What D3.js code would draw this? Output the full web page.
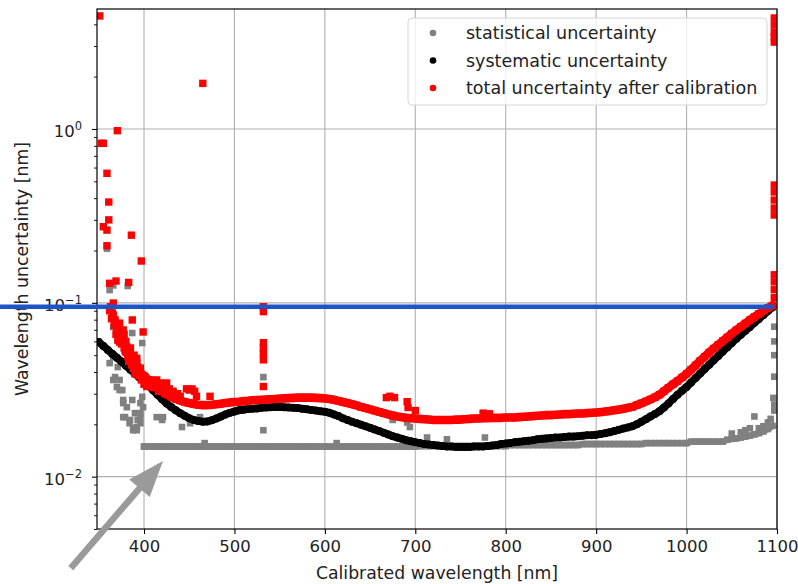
<!DOCTYPE html>
<html>
<head>
<meta charset="utf-8">
<script src="https://cdn.jsdelivr.net/npm/d3@7"></script>
<style>
  html, body { margin: 0; padding: 0; background: #fff; }
  svg { display: block; font-family: "DejaVu Sans", sans-serif; }
</style>
</head>
<body>
<svg id="chart" width="798" height="584"></svg>
<script>
// Wavelength grid of the calibration [nm]
const wavelength = [
  350,355,360,365,370,375,380,385,390,395,
  400,405,410,415,420,425,430,435,440,445,
  450,455,460,465,470,475,480,485,490,495,
  500,505,510,515,520,525,530,535,540,545,
  550,555,560,565,570,575,580,585,590,595,
  600,605,610,615,620,625,630,635,640,645,
  650,655,660,665,670,675,680,685,690,695,
  700,705,710,715,720,725,730,735,740,745,
  750,755,760,765,770,775,780,785,790,795,
  800,805,810,815,820,825,830,835,840,845,
  850,855,860,865,870,875,880,885,890,895,
  900,905,910,915,920,925,930,935,940,945,
  950,955,960,965,970,975,980,985,990,995,
  1000,1005,1010,1015,1020,1025,1030,1035,1040,1045,
  1050,1055,1060,1065,1070,1075,1080,1085,1090,1095
];

// Statistical uncertainty [nm] on the grid (no value below 400 nm)
const statistical = [
  null,null,null,null,null,null,null,null,null,null,
  0.0149,0.0149,0.0149,0.0149,0.0149,0.0149,0.0149,0.0149,0.0149,0.0149,
  0.0149,0.0149,0.0149,0.0149,0.0149,0.0149,0.0149,0.0149,0.0149,0.0149,
  0.0149,0.0149,0.0149,0.0149,0.0149,0.0149,0.0149,0.0149,0.0149,0.0149,
  0.0149,0.0149,0.0149,0.0149,0.0149,0.0149,0.0149,0.0149,0.0149,0.0149,
  0.0149,0.0149,0.0149,0.0149,0.0149,0.0149,0.0149,0.0149,0.0149,0.0149,
  0.0149,0.0149,0.0149,0.0149,0.0149,0.0149,0.0149,0.0149,0.0149,0.0149,
  0.0149,0.0150,0.0150,0.0150,0.0150,0.0150,0.0150,0.0150,0.0150,0.0150,
  0.0150,0.0150,0.0150,0.0150,0.0150,0.0150,0.0150,0.0150,0.0150,0.0150,
  0.0150,0.0152,0.0152,0.0152,0.0152,0.0152,0.0152,0.0152,0.0152,0.0152,
  0.0152,0.0152,0.0152,0.0152,0.0152,0.0152,0.0152,0.0154,0.0154,0.0154,
  0.0154,0.0154,0.0154,0.0154,0.0154,0.0154,0.0154,0.0154,0.0154,0.0154,
  0.0154,0.0156,0.0156,0.0156,0.0156,0.0156,0.0156,0.0156,0.0156,0.0156,
  0.0156,0.0159,0.0159,0.0159,0.0159,0.0159,0.0159,0.0159,0.0159,0.0163,
  0.0165,0.0166,0.0168,0.0170,0.0172,0.0175,0.0178,0.0182,0.0188,0.0196
];

// Systematic uncertainty [nm] on the grid
const systematic = [
  0.0595,0.0565,0.0535,0.0508,0.0483,0.0459,0.0435,0.0412,0.0391,0.0372,
  0.0355,0.0334,0.0314,0.0296,0.0279,0.0264,0.0252,0.0241,0.0232,0.0224,
  0.0217,0.0212,0.0209,0.0207,0.0208,0.0211,0.0216,0.0222,0.0228,0.0233,
  0.0237,0.0241,0.0243,0.0245,0.0246,0.0247,0.0249,0.0250,0.0251,0.0252,
  0.0252,0.0251,0.0250,0.0249,0.0248,0.0246,0.0244,0.0242,0.0240,0.0238,
  0.0236,0.0233,0.0228,0.0223,0.0217,0.0212,0.0207,0.0203,0.0199,0.0195,
  0.0191,0.0187,0.0183,0.0179,0.0175,0.0171,0.0168,0.0165,0.0162,0.0160,
  0.0158,0.0156,0.0154,0.0153,0.0152,0.0151,0.0150,0.0149,0.0149,0.0148,
  0.0148,0.0148,0.0148,0.0149,0.0149,0.0149,0.0150,0.0151,0.0152,0.0154,
  0.0155,0.0156,0.0158,0.0159,0.0160,0.0161,0.0162,0.0164,0.0165,0.0166,
  0.0167,0.0168,0.0168,0.0169,0.0170,0.0170,0.0171,0.0172,0.0173,0.0173,
  0.0174,0.0176,0.0178,0.0180,0.0183,0.0186,0.0189,0.0192,0.0195,0.0200,
  0.0207,0.0214,0.0222,0.0229,0.0238,0.0250,0.0264,0.0280,0.0296,0.0312,
  0.0328,0.0348,0.0370,0.0392,0.0416,0.0440,0.0467,0.0495,0.0524,0.0555,
  0.0588,0.0621,0.0655,0.0690,0.0727,0.0767,0.0808,0.0852,0.0897,0.0942
];

// Total uncertainty after calibration [nm] on the grid (scattered below 395 nm)
const total = [
  null,null,null,null,null,null,null,null,null,0.0400,
  0.0380,0.0360,0.0342,0.0325,0.0310,0.0297,0.0288,0.0280,0.0274,0.0269,
  0.0265,0.0262,0.0259,0.0258,0.0258,0.0259,0.0261,0.0263,0.0265,0.0267,
  0.0269,0.0270,0.0272,0.0273,0.0275,0.0276,0.0277,0.0278,0.0279,0.0280,
  0.0281,0.0282,0.0283,0.0284,0.0285,0.0285,0.0285,0.0285,0.0284,0.0283,
  0.0282,0.0280,0.0277,0.0273,0.0269,0.0265,0.0261,0.0257,0.0252,0.0248,
  0.0244,0.0240,0.0236,0.0232,0.0228,0.0225,0.0222,0.0220,0.0218,0.0217,
  0.0216,0.0215,0.0214,0.0213,0.0212,0.0212,0.0212,0.0212,0.0212,0.0213,
  0.0213,0.0214,0.0215,0.0216,0.0216,0.0217,0.0217,0.0218,0.0218,0.0218,
  0.0219,0.0219,0.0219,0.0220,0.0221,0.0222,0.0223,0.0224,0.0225,0.0226,
  0.0226,0.0227,0.0228,0.0229,0.0229,0.0230,0.0231,0.0231,0.0232,0.0233,
  0.0234,0.0235,0.0237,0.0239,0.0241,0.0243,0.0246,0.0249,0.0252,0.0258,
  0.0264,0.0271,0.0278,0.0286,0.0296,0.0310,0.0325,0.0340,0.0355,0.0372,
  0.0390,0.0413,0.0437,0.0463,0.0490,0.0518,0.0546,0.0574,0.0603,0.0633,
  0.0665,0.0697,0.0729,0.0762,0.0796,0.0830,0.0865,0.0900,0.0936,0.0965
];

// Isolated statistical points [wavelength nm, uncertainty nm]
const statisticalOutliers = [
  [362,0.1185],[382,0.125],[366,0.126],[359,0.205],[366,0.0726],[370,0.067],[387,0.067],
  [398,0.0587],[362,0.045],[366,0.049],[371,0.0427],[368,0.0374],[366,0.036],[370,0.0328],
  [373,0.036],[373,0.0315],[376,0.0315],[377,0.0276],[377,0.0265],[381,0.0251],[379,0.022],
  [377,0.022],[384,0.0203],[384.5,0.0212],[388,0.0185],[388,0.019],[392,0.0193],[392,0.0185],
  [396,0.0232],[396,0.0265],[387,0.0276],[390,0.0232],[396,0.0203],[396,0.022],[399,0.0251],
  [398,0.0288],[393,0.0212],[414,0.022],[420,0.0212],[421,0.022],[442,0.0193],[451,0.0203],
  [462,0.022],[467,0.0156],
  [532,0.0374],[532,0.0185],[613,0.0156],[675,0.0212],[691,0.0205],[694,0.0193],
  [713,0.0168],[735,0.0164],[777,0.0168],[1050,0.0177],[1060,0.018],[1065,0.0185],
  [1070,0.019],[1075,0.0222],[1080,0.019],[1085,0.0195],[1090,0.0205],[1093,0.0215],
  [1097,0.024],[1097,0.026],[1096,0.0284],[1097,0.0376],[1097,0.05],[1097,0.06],[1097,0.0729]
];

// Isolated total-uncertainty points [wavelength nm, uncertainty nm]
const totalOutliers = [
  [351,4.47],[353,0.827],[355,0.827],[370.5,0.978],[465,1.83],[359,0.556],[361,0.38],
  [361,0.30],[355,0.274],[359,0.262],[386,0.245],[359,0.213],[397,0.174],[362,0.1295],
  [369,0.1335],[383,0.131],
  [366,0.0997],[365,0.0874],[362,0.09],[363,0.095],[366,0.085],[364,0.081],[368,0.0797],
  [373,0.0764],[387,0.0797],[367,0.074],[370,0.0698],[377,0.0698],[372,0.072],[374,0.068],
  [369,0.066],[377,0.0636],[378,0.066],[373,0.0595],[371,0.061],[375,0.058],
  [380,0.060],[381,0.0558],[378,0.055],[379,0.053],[380,0.052],[385,0.055],[384,0.0516],
  [382,0.049],[389,0.050],[383,0.046],[388,0.0482],[392,0.048],[390,0.046],[386,0.044],
  [392,0.045],[388,0.042],[393,0.043],[391,0.041],[390,0.039],[396,0.0421],[394,0.038],
  [396,0.040],[397,0.036],[399,0.068],[401,0.0374],[400,0.034],[403,0.033],[407,0.036],
  [410,0.0325],[414,0.036],[416,0.031],[418,0.0346],[420,0.033],[423,0.030],
  [425,0.0346],[428,0.032],[432,0.0304],[432,0.031],[437,0.030],[440,0.029],
  [447,0.032],[450,0.0315],[453,0.032],[456,0.031],[458,0.029],[473,0.029],
  [532,0.095],[532,0.089],[532,0.059],[532,0.055],[532,0.051],[532,0.047],[532,0.033],
  [668,0.0285],[672,0.029],[677,0.0285],[691,0.027],[692,0.025],[700,0.024],
  [775,0.0232],[782,0.023],
  [1097,4.35],[1097,3.97],[1097,3.61],[1097,3.38],[1097,3.16],
  [1097,0.476],[1097,0.434],[1097,0.39],[1097,0.351],[1097,0.32],
  [1097,0.145],[1097,0.132],[1097,0.119],[1097,0.107]
];

const xTicks = [400, 500, 600, 700, 800, 900, 1000, 1100];
const yDecades = [1e-2, 1e-1, 1];
const yDecadeExponents = ["\u22122", "\u22121", "0"];
const yMinorTicks = [0.005,0.006,0.007,0.008,0.009,0.02,0.03,0.04,0.05,0.06,0.07,0.08,0.09,
                     0.2,0.3,0.4,0.5,0.6,0.7,0.8,0.9,2,3,4];
const legendLabels = ["statistical uncertainty", "systematic uncertainty", "total uncertainty after calibration"];
const seriesColors = ["#808080", "#000000", "#ff0000"];

// Reference level marked across the figure and arrow pointing at the statistical floor
const referenceLevel = 0.095;
const referenceEnd = 1097;
const arrowTail = [319, 0.00298];
const arrowTip = [421, 0.0123];

const svg = d3.select("#chart");
const plot = { left: 97, right: 777, top: 9, bottom: 529 };

const x = d3.scaleLinear().domain([348, 1100]).range([plot.left, plot.right]);
const y = d3.scaleLog().domain([0.005, 4.9]).range([plot.bottom, plot.top]);

svg.append("defs").append("clipPath").attr("id", "plot-clip")
  .append("rect")
  .attr("x", plot.left).attr("y", plot.top)
  .attr("width", plot.right - plot.left).attr("height", plot.bottom - plot.top);

// Grid
const grid = svg.append("g").attr("class", "grid");
grid.selectAll("line.vx").data(xTicks).join("line")
  .attr("x1", d => x(d)).attr("x2", d => x(d))
  .attr("y1", plot.top).attr("y2", plot.bottom)
  .attr("stroke", "#b0b0b0").attr("stroke-width", 1.1);
grid.selectAll("line.hy").data(yDecades).join("line")
  .attr("x1", plot.left).attr("x2", plot.right)
  .attr("y1", d => y(d)).attr("y2", d => y(d))
  .attr("stroke", "#b0b0b0").attr("stroke-width", 1.1);

// Data points: the densely sampled grid reads as a continuous band of markers
const pts = svg.append("g").attr("clip-path", "url(#plot-clip)");

const gridPoints = (vals) => wavelength.map((w, i) => [w, vals[i]]).filter(d => d[1] != null);
const band = d3.line().x(d => x(d[0])).y(d => y(d[1]));

const statGrid = gridPoints(statistical);
const sysGrid = gridPoints(systematic);
const totGrid = gridPoints(total);

function drawSeries(gridPts, extra, color, size, round, bandWidth) {
  const g = pts.append("g");
  g.append("path").datum(gridPts)
    .attr("d", band).attr("fill", "none").attr("stroke", color)
    .attr("stroke-width", bandWidth)
    .attr("stroke-linejoin", "round")
    .attr("stroke-linecap", round ? "round" : "square");
  const all = gridPts.concat(extra);
  if (round) {
    g.selectAll("circle").data(all).join("circle")
      .attr("cx", d => x(d[0])).attr("cy", d => y(d[1]))
      .attr("r", size / 2).attr("fill", color);
  } else {
    g.selectAll("rect").data(all).join("rect")
      .attr("x", d => x(d[0]) - size / 2).attr("y", d => y(d[1]) - size / 2)
      .attr("width", size).attr("height", size).attr("fill", color);
  }
}

drawSeries(statGrid, statisticalOutliers, seriesColors[0], 6.6, false, 6.4);
drawSeries(sysGrid, [], seriesColors[1], 8, true, 7.6);
drawSeries(totGrid, totalOutliers, seriesColors[2], 7.4, false, 8.6);

// Axes
const xAxis = svg.append("g").attr("transform", `translate(0,${plot.bottom})`)
  .call(d3.axisBottom(x).tickValues(xTicks).tickSize(5).tickPadding(6).tickFormat(d3.format("d")));
xAxis.select(".domain").remove();
xAxis.selectAll(".tick line").attr("stroke", "#000").attr("stroke-width", 1.1);
xAxis.selectAll(".tick text").attr("font-size", 16.5).attr("fill", "#222")
  .attr("font-family", "DejaVu Sans");

const yAxis = svg.append("g").attr("transform", `translate(${plot.left},0)`)
  .call(d3.axisLeft(y).tickValues(yDecades).tickSize(5).tickFormat(""));
yAxis.select(".domain").remove();
yAxis.selectAll(".tick line").attr("stroke", "#000").attr("stroke-width", 1.1);

const yMinor = svg.append("g").attr("transform", `translate(${plot.left},0)`)
  .call(d3.axisLeft(y).tickValues(yMinorTicks).tickSize(3).tickFormat(""));
yMinor.select(".domain").remove();
yMinor.selectAll(".tick line").attr("stroke", "#000").attr("stroke-width", 0.9);

// Decade labels 10^n
const yLab = svg.append("g").attr("fill", "#222").attr("font-size", 16.5).attr("text-anchor", "end");
yDecades.forEach((d, i) => {
  const t = yLab.append("text").attr("x", 82).attr("y", y(d) + 8);
  t.append("tspan").text("10");
  t.append("tspan").attr("font-size", 11.5).attr("dy", -7).text(yDecadeExponents[i]);
});

// Frame
svg.append("rect")
  .attr("x", plot.left).attr("y", plot.top)
  .attr("width", plot.right - plot.left).attr("height", plot.bottom - plot.top)
  .attr("fill", "none").attr("stroke", "#000").attr("stroke-width", 1.2);

// Axis titles
svg.append("text")
  .attr("x", (plot.left + plot.right) / 2).attr("y", 579)
  .attr("text-anchor", "middle").attr("font-size", 17.3).attr("fill", "#222")
  .text("Calibrated wavelength [nm]");
svg.append("text")
  .attr("transform", `translate(28,${(plot.top + plot.bottom) / 2}) rotate(-90)`)
  .attr("text-anchor", "middle").attr("font-size", 17.3).attr("fill", "#222")
  .text("Wavelength uncertainty [nm]");

// Legend
const legend = svg.append("g");
legend.append("rect")
  .attr("x", 408).attr("y", 18).attr("width", 359).attr("height", 87)
  .attr("rx", 4).attr("fill", "#fff").attr("fill-opacity", 0.8)
  .attr("stroke", "#d6d6d6").attr("stroke-width", 1);
legendLabels.forEach((lab, i) => {
  const cy = 33 + i * 27.5;
  legend.append("circle").attr("cx", 433).attr("cy", cy).attr("r", 3.3).attr("fill", seriesColors[i]);
  legend.append("text").attr("x", 466).attr("y", cy + 6)
    .attr("font-size", 17.5).attr("fill", "#222").text(lab);
});

// Reference level across the figure
svg.append("line")
  .attr("x1", 0).attr("x2", x(referenceEnd))
  .attr("y1", y(referenceLevel)).attr("y2", y(referenceLevel))
  .attr("stroke", "#1d55c9").attr("stroke-width", 4.5);

// Arrow
const p0 = [x(arrowTail[0]), y(arrowTail[1])];
const p1 = [x(arrowTip[0]), y(arrowTip[1])];
const dx = p1[0] - p0[0], dy = p1[1] - p0[1];
const len = Math.hypot(dx, dy);
const ux = dx / len, uy = dy / len, nx = -uy, ny = ux;
const headLen = 36, headHalf = 13.5;
const base = [p1[0] - ux * headLen, p1[1] - uy * headLen];
svg.append("line")
  .attr("x1", p0[0]).attr("y1", p0[1]).attr("x2", base[0] + ux * 2).attr("y2", base[1] + uy * 2)
  .attr("stroke", "#9a9a9a").attr("stroke-width", 6.5);
svg.append("polygon")
  .attr("points", [p1, [base[0] + nx * headHalf, base[1] + ny * headHalf], [base[0] - nx * headHalf, base[1] - ny * headHalf]]
    .map(p => p.join(",")).join(" "))
  .attr("fill", "#9a9a9a");
</script>
</body>
</html>
